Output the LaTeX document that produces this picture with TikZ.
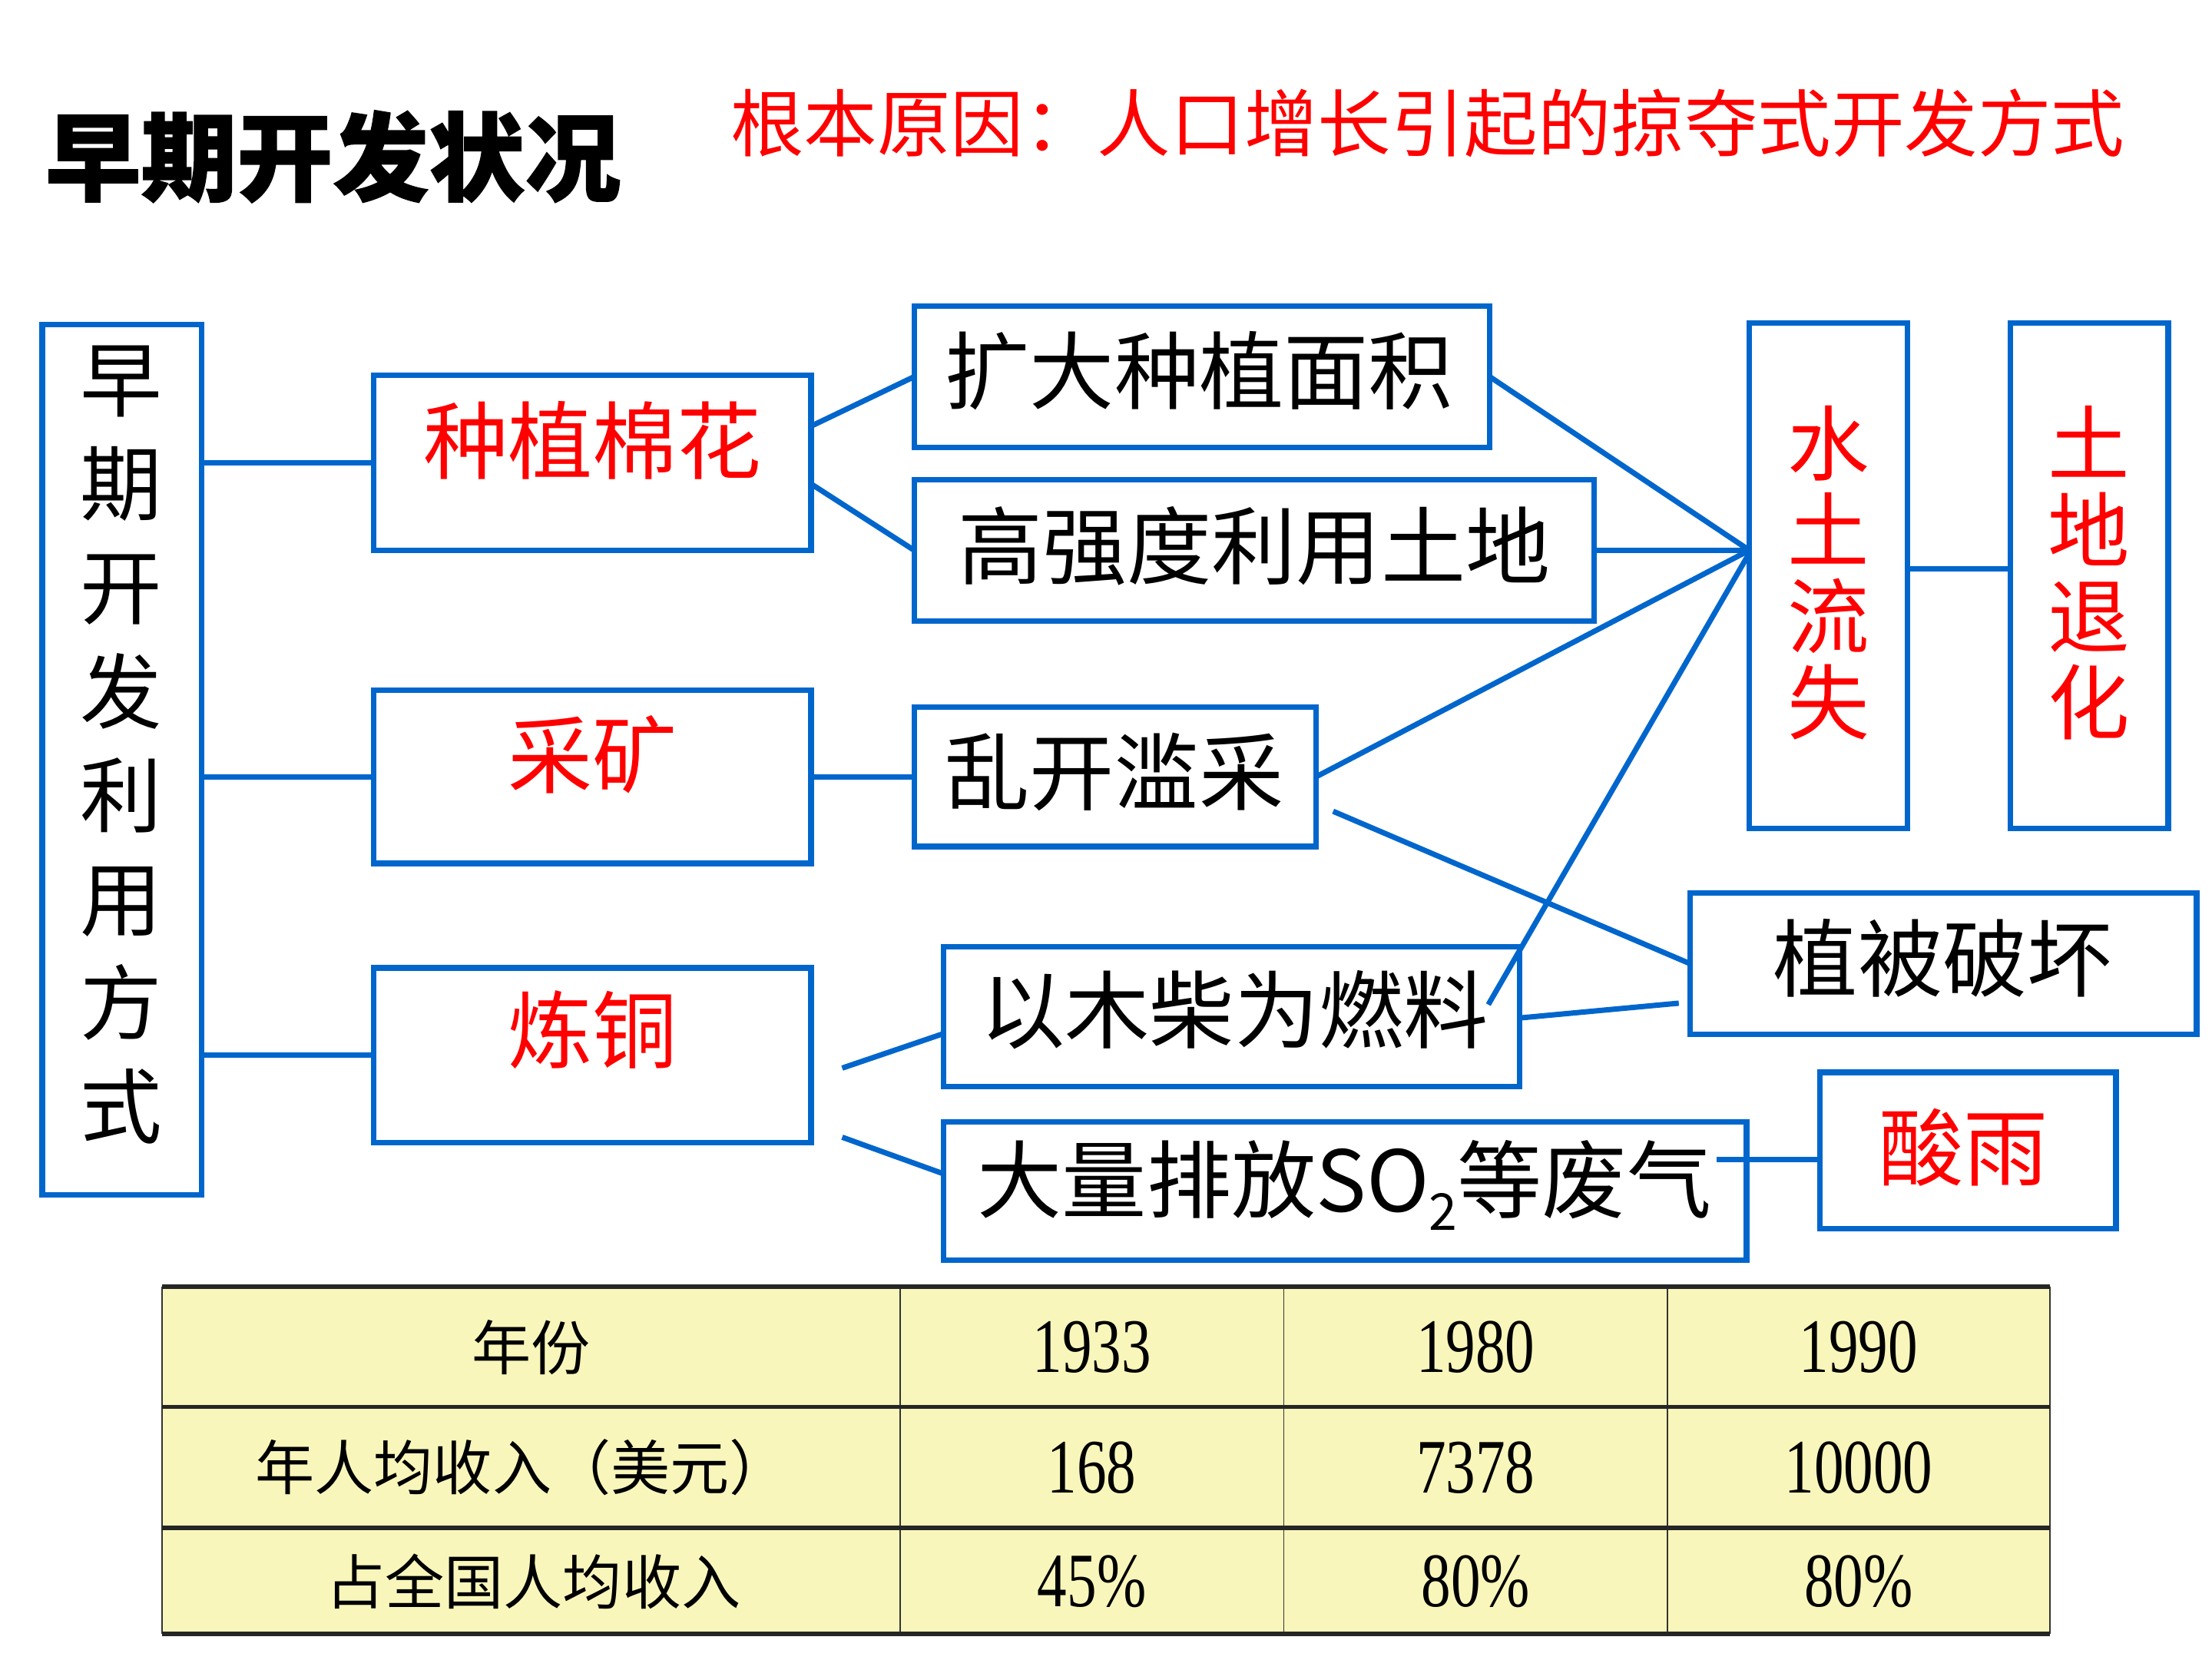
\documentclass[tikz,border=0pt]{standalone}
\usepackage{fontspec}
\usepackage{graphicx}
\newfontfamily\cjk{Noto Sans CJK SC}
\newfontfamily\cjktitle{Noto Sans CJK SC}[BoldFeatures={FakeBold=1.2}]
\newfontfamily\numf{Liberation Serif}
\usetikzlibrary{calc}
\definecolor{lblue}{RGB}{0,102,204}
\definecolor{tred}{RGB}{255,0,0}
\definecolor{tyellow}{RGB}{249,246,187}
\tikzset{
  box/.style={draw=lblue, line width=4pt, rectangle, inner sep=0pt, outer sep=0pt},
  conn/.style={draw=lblue, line width=3.8pt},
  btxt/.style={font=\cjk\fontsize{60}{60}\selectfont, text=black, inner sep=0pt},
  rtxt/.style={font=\cjk\fontsize{60}{60}\selectfont, text=tred, inner sep=0pt},
  vtxt/.style={align=center, inner sep=0pt},
  cell/.style={font=\cjk\fontsize{42}{42}\selectfont, inner sep=0pt},
  ncell/.style={font=\numf\fontsize{42}{42}\selectfont, inner sep=0pt},
  hline/.style={draw=black!85, line width=3pt},
  vline/.style={draw=black!80, line width=1pt},
}
\newcommand{\tallnum}[1]{\scalebox{1}[1.3]{#1}}
\newcommand{\subtwo}{\raisebox{-0.22em}{\fontsize{36}{36}\selectfont 2}}
\begin{document}
\begin{tikzpicture}[x=1pt,y=-1pt]
\useasboundingbox (0,0) rectangle (1568,1176);
\fill[white] (0,0) rectangle (1568,1176);

% title and subtitle
\node[font=\cjktitle\bfseries\fontsize{68}{68}\selectfont, text=black, inner sep=0pt] (title) at (236,111) {早期开发状况};
\node[font=\cjk\fontsize{52}{52}\selectfont, text=tred, inner sep=0pt] (sub) at (1012,87) {根本原因：人口增长引起的掠夺式开发方式};

% boxes
\node[box, minimum width=113pt, minimum height=617pt] (L) at (86.5,538.5) {};
\node[box, minimum width=310pt, minimum height=124pt] (z1) at (420,328) {};
\node[box, minimum width=310pt, minimum height=123pt] (c1) at (420,550.5) {};
\node[box, minimum width=310pt, minimum height=124pt] (l1) at (420,748) {};
\node[box, minimum width=408pt, minimum height=100pt] (k1) at (852,267) {};
\node[box, minimum width=482pt, minimum height=100pt] (k2) at (889,390) {};
\node[box, minimum width=285pt, minimum height=99pt] (k3) at (790.5,550.5) {};
\node[box, minimum width=408pt, minimum height=99pt] (k4) at (873,720.5) {};
\node[box, minimum width=569pt, minimum height=98pt] (k5) at (953.5,844) {};
\node[box, minimum width=112pt, minimum height=358pt] (s) at (1296,408) {};
\node[box, minimum width=112pt, minimum height=358pt] (t) at (1481,408) {};
\node[box, minimum width=359pt, minimum height=100pt] (v) at (1377.5,683) {};
\node[box, minimum width=210pt, minimum height=111pt] (a) at (1395,815.5) {};

% texts
\node[vtxt, font=\cjk\fontsize{58}{73.6}\selectfont] (Lt) at (86,528) {早\\期\\开\\发\\利\\用\\方\\式};
\node[rtxt] (z1t) at (420,312) {种植棉花};
\node[rtxt] (c1t) at (420,535) {采矿};
\node[rtxt] (l1t) at (420,730) {炼铜};
\node[btxt] (k1t) at (850,263) {扩大种植面积};
\node[btxt] (k2t) at (889,387) {高强度利用土地};
\node[btxt] (k3t) at (790,547) {乱开滥采};
\node[btxt] (k4t) at (875,716) {以木柴为燃料};
\node[btxt] (k5t) at (953,840) {大量排放SO\subtwo 等废气};
\node[vtxt, font=\cjk\fontsize{58}{61}\selectfont, text=tred] (st) at (1296,406) {水\\土\\流\\失};
\node[vtxt, font=\cjk\fontsize{58}{61}\selectfont, text=tred] (tt) at (1481,406) {土\\地\\退\\化};
\node[btxt] (vt) at (1377,679) {植被破坏};
\node[rtxt] (at) at (1392,813) {酸雨};

% free ends
\coordinate (p1) at (597,757);
\coordinate (p2) at (597,806);
\coordinate (p3) at (1055,712);
\coordinate (p4) at (945,575);
\coordinate (p5) at (1217,822);

% connectors
\draw[conn] (L.east |- z1.west) -- (z1.west);
\draw[conn] (L.east |- c1.west) -- (c1.west);
\draw[conn] (L.east |- l1.west) -- (l1.west);
\draw[conn] ($(z1.east)+(0,-26)$) -- (k1.west);
\draw[conn] ($(z1.east)+(0,15)$) -- (k2.west);
\draw[conn] (c1.east) -- (k3.west);
\draw[conn] (p1) -- ($(k4.west)+(0,12)$);
\draw[conn] (p2) -- ($(k5.west)+(0,-12)$);
\draw[conn] (k1.east) -- ($(s.west)+(0,-18)$);
\draw[conn] (k2.east) -- (s.west |- k2.east);
\draw[conn] (k3.east) -- ($(s.west)+(0,-18)$);
\draw[conn] (p3) -- ($(s.west)+(0,-16)$);
\draw[conn] (p4) -- (v.west);
\draw[conn] ($(k4.east)+(0,1)$) -- ($(v.west)+(-8,28)$);
\draw[conn] (p5) -- (a.west |- p5);
\draw[conn] ($(s.east)+(0,-5)$) -- ($(t.west)+(0,-5)$);

% table
\fill[tyellow] (115,912) rectangle (1453,1158);
\foreach \xx in {115,638,910,1182,1453} \draw[vline] (\xx,912) -- (\xx,1158);
\foreach \yy in {912,997,1083,1158} \draw[hline] (115,\yy) -- (1453,\yy);

\node[cell] (r1c1) at (376.5,955) {年份};
\node[ncell] (r1c2) at (774,955) {\tallnum{1933}};
\node[ncell] (r1c3) at (1046,955) {\tallnum{1980}};
\node[ncell] (r1c4) at (1317.5,955) {\tallnum{1990}};
\node[cell] (r2c1) at (370,1040) {年人均收入（美元）};
\node[ncell] (r2c2) at (774,1040) {\tallnum{168}};
\node[ncell] (r2c3) at (1046,1040) {\tallnum{7378}};
\node[ncell] (r2c4) at (1317.5,1040) {\tallnum{10000}};
\node[cell] (r3c1) at (378,1121) {占全国人均收入};
\node[ncell] (r3c2) at (774,1121) {\tallnum{45\%}};
\node[ncell] (r3c3) at (1046,1121) {\tallnum{80\%}};
\node[ncell] (r3c4) at (1317.5,1121) {\tallnum{80\%}};
\end{tikzpicture}
\end{document}
